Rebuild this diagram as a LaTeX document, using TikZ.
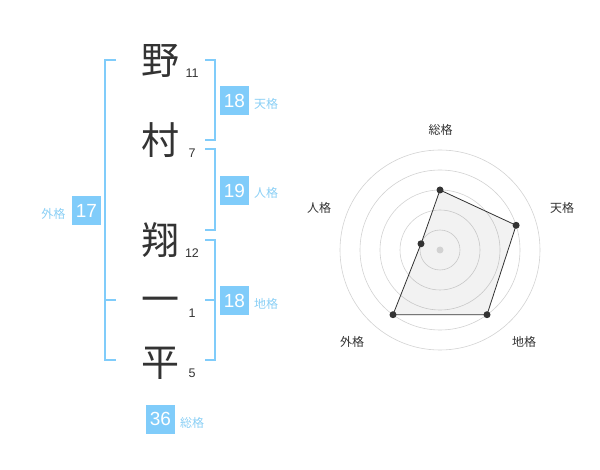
\documentclass[tikz,border=0pt]{standalone}
\usepackage{fontspec}
\setmainfont{Liberation Sans}
\newfontfamily\jp{Noto Sans CJK JP}
\definecolor{ink}{HTML}{333333}
\definecolor{sky}{HTML}{80CCFA}
\definecolor{skytext}{HTML}{8ACFF5}
\definecolor{ring}{HTML}{D2D2D2}
\begin{document}
\begin{tikzpicture}[x=1pt,y=-1pt,
  kanji/.style={font=\jp\fontsize{38}{38}\selectfont, text=ink, anchor=base, inner sep=0pt},
  strokes/.style={font=\fontsize{12.5}{12.5}\selectfont, text=ink, anchor=base, inner sep=0pt},
  gbox/.style={fill=sky, minimum size=29pt, inner sep=0pt, text=white, font=\fontsize{19}{19}\selectfont},
  glabel/.style={font=\jp\fontsize{12}{12}\selectfont, text=skytext, anchor=base, inner sep=0pt},
  rlabel/.style={font=\jp\fontsize{12}{12}\selectfont, text=ink, anchor=base, inner sep=0pt},
  bracket/.style={draw=sky, line width=2pt},
  ringline/.style={draw=ring, line width=0.6pt},
  dot/.style={circle, fill=ink, inner sep=0pt, minimum size=7pt}
]
\useasboundingbox (0,0) rectangle (600,470);

% name characters
\node[kanji] (k1) at (160,74.5) {野};
\node[kanji] (k2) at (160,154.5) {村};
\node[kanji] (k3) at (160,254.5) {翔};
\node[kanji] (k4) at (160,313.5) {一};
\node[kanji] (k5) at (160,376.5) {平};

% stroke counts
\node[strokes] (n1) at (192,77.2) {11};
\node[strokes] (n2) at (192,157.2) {7};
\node[strokes] (n3) at (192,257.2) {12};
\node[strokes] (n4) at (192,317.2) {1};
\node[strokes] (n5) at (192,377.2) {5};

% brackets
\draw[bracket] (205,60) -- (215,60) -- (215,140) -- (205,140);
\draw[bracket] (205,149) -- (215,149) -- (215,230) -- (205,230);
\draw[bracket] (205,240) -- (215,240) -- (215,360) -- (205,360);
\draw[bracket] (205,300) -- (215,300);
\draw[bracket] (116,60) -- (105,60) -- (105,360) -- (116,360);
\draw[bracket] (105,300) -- (116,300);

% score boxes
\node[gbox] (b1) at (234.5,100.5) {18};
\node[gbox] (b2) at (234.5,190.5) {19};
\node[gbox] (b3) at (234.5,300.5) {18};
\node[gbox] (b4) at (86.5,210.5) {17};
\node[gbox] (b5) at (160.5,419) {36};

% labels
\node[glabel] (l1) at (266,108.4) {天格};
\node[glabel] (l2) at (266,197.9) {人格};
\node[glabel] (l3) at (266,308.6) {地格};
\node[glabel] (l4) at (53.3,218.9) {外格};
\node[glabel] (l5) at (192,427.3) {総格};

% radar chart
\coordinate (c) at (440,250);
\foreach \r in {20,40,60,80,100} \draw[ringline] (c) circle[radius=\r];
\coordinate (p1) at (440,190);
\coordinate (p2) at (516.1,225.3);
\coordinate (p3) at (487.0,314.7);
\coordinate (p4) at (393.0,314.7);
\coordinate (p5) at (421.0,243.8);
\fill[black, fill opacity=0.05] (p1) -- (p2) -- (p3) -- (p4) -- (p5) -- cycle;
\draw[ink, line width=0.8pt] (p1) -- (p2) -- (p3) -- (p4) -- (p5) -- cycle;
\foreach \p in {p1,p2,p3,p4,p5} \node[dot] at (\p) {};
\node[circle, fill=ring, inner sep=0pt, minimum size=7pt] (cd) at (c) {};

\node[rlabel] (r1) at (440.7,134.6) {総格};
\node[rlabel] (r2) at (562,212.6) {天格};
\node[rlabel] (r3) at (524,346.6) {地格};
\node[rlabel] (r4) at (352,346.6) {外格};
\node[rlabel] (r5) at (319,212.6) {人格};
\end{tikzpicture}
\end{document}
